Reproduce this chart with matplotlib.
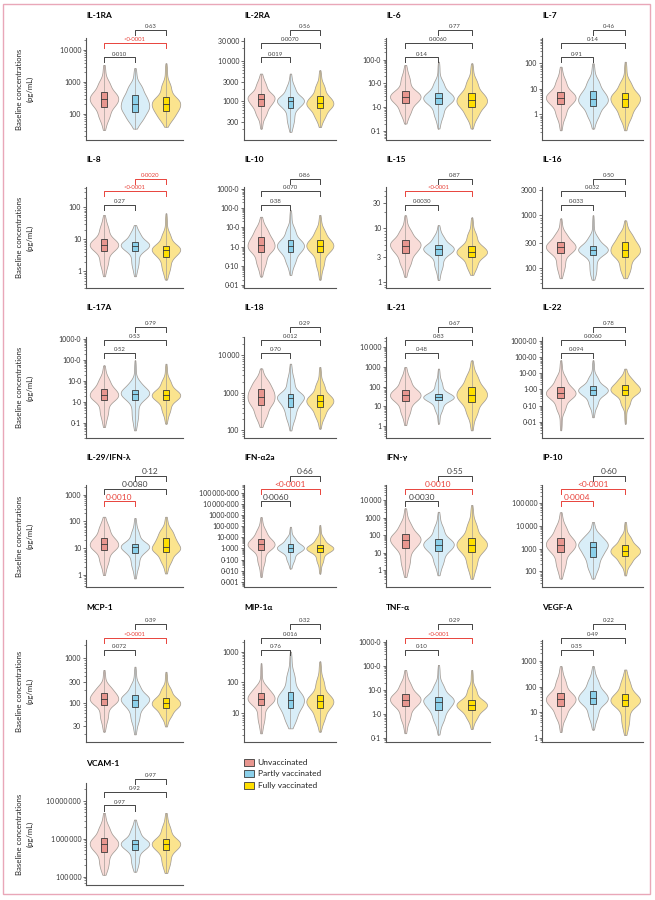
import numpy as np
import matplotlib
matplotlib.use("Agg")
import matplotlib.pyplot as plt
from matplotlib.patches import Rectangle
from matplotlib.ticker import LogLocator, NullFormatter

plt.rcParams['font.family'] = ['Lato', 'DejaVu Sans']

# ---------------------------------------------------------------- data
GROUPS = ["Unvaccinated", "Partly vaccinated", "Fully vaccinated"]
# quantiles read for each violin: min, 5%, Q1, median, Q3, 95%, max (pg/mL)
QLEVELS = [0.0, 0.05, 0.25, 0.5, 0.75, 0.95, 1.0]

IL1RA = [[32, 65, 170, 290, 470, 1150, 3400],
         [35, 58, 118, 205, 390, 910, 2700],
         [40, 65, 123, 205, 330, 1000, 3800]]
IL2RA = [[210, 400, 760, 1140, 1520, 3000, 4800],
         [175, 275, 690, 1000, 1260, 2500, 4800],
         [230, 365, 665, 910, 1320, 2750, 5800]]
IL6 = [[0.21, 0.48, 1.55, 2.8, 4.8, 22, 59],
       [0.13, 0.35, 1.4, 2.4, 4.1, 14, 81],
       [0.13, 0.35, 1.06, 2.0, 4.1, 16, 69]]
IL7 = [[0.24, 0.7, 2.5, 4.5, 7.7, 26, 74],
       [0.28, 0.7, 2.2, 4.0, 8.2, 26, 100],
       [0.24, 0.6, 1.9, 3.9, 7.0, 22, 115]]
IL8 = [[0.7, 1.4, 4.4, 6.7, 10, 28, 58],
       [0.7, 1.3, 4.2, 6.4, 8.5, 17, 28],
       [0.55, 1.0, 2.9, 4.7, 6.4, 17, 65]]
IL10 = [[0.029, 0.094, 0.55, 1.2, 3.0, 10.7, 35],
        [0.035, 0.115, 0.51, 1.1, 2.2, 10.7, 76],
        [0.02, 0.078, 0.51, 1.1, 2.2, 8.7, 43]]
IL15 = [[1.26, 1.95, 3.45, 4.8, 6.1, 10, 17.6],
        [1.1, 1.7, 3.2, 4.1, 4.9, 7.5, 11.5],
        [1.37, 1.8, 3.0, 3.7, 4.8, 8.7, 16]]
IL16 = [[63, 91, 187, 245, 310, 480, 870],
        [59, 78, 174, 218, 263, 415, 1000],
        [63, 84, 162, 218, 303, 480, 800]]
IL17A = [[0.065, 0.19, 1.2, 2.2, 4.4, 15.5, 56],
         [0.045, 0.13, 1.2, 2.5, 3.9, 10.8, 97],
         [0.094, 0.28, 1.2, 2.1, 3.6, 13, 67]]
IL18 = [[124, 210, 470, 780, 1300, 2400, 4500],
        [100, 185, 425, 750, 910, 2700, 6000],
        [112, 210, 425, 615, 870, 1950, 4900]]
IL21 = [[1.1, 3.5, 18, 36, 70, 300, 970],
        [1.3, 5.1, 20, 29, 44, 205, 810],
        [0.6, 2.9, 16.5, 39, 94, 450, 2100]]
IL22 = [[0.003, 0.04, 0.29, 0.59, 1.4, 7.3, 62],
        [0.019, 0.08, 0.43, 0.87, 1.6, 7.3, 62],
        [0.0076, 0.08, 0.47, 0.95, 1.95, 5.8, 19]]
IL29 = [[1.0, 2.4, 8.6, 14, 25, 74, 150],
        [0.75, 1.8, 6.5, 11.4, 15, 48, 135],
        [1.15, 2.7, 7.4, 11.4, 23.5, 55, 150]]
IFNA2A = [[0.0028, 0.032, 0.81, 2.3, 6.9, 63, 660],
          [0.016, 0.062, 0.49, 1.1, 2.3, 11, 89],
          [0.0056, 0.045, 0.49, 1.0, 2.0, 11, 126]]
IFNG = [[0.42, 1.55, 17.5, 52, 110, 575, 3400],
        [0.52, 1.9, 12.2, 29, 59, 370, 2150],
        [0.33, 1.25, 11, 29, 70, 575, 5200]]
IP10 = [[48, 130, 710, 1500, 2950, 11000, 40000],
        [48, 110, 430, 1120, 2000, 4650, 15000],
        [66, 185, 475, 800, 1410, 3900, 15000]]
MCP1 = [[23, 39, 92, 123, 167, 255, 550],
        [20, 36, 80, 118, 148, 277, 650],
        [30, 47, 77, 100, 133, 234, 500]]
MIP1A = [[2.2, 4.8, 18.6, 29, 44, 83, 420],
         [3.2, 5.3, 14.5, 27, 50, 225, 1000],
         [2.5, 5.3, 14.5, 24, 39, 137, 480]]
TNFA = [[0.16, 0.49, 2.05, 3.9, 6.8, 22, 67],
        [0.14, 0.42, 1.5, 3.3, 5.3, 19, 108],
        [0.24, 0.57, 1.5, 2.4, 3.9, 13.7, 67]]
VEGFA = [[1.7, 5.4, 17.4, 32, 57, 215, 630],
         [2.1, 5.4, 21, 36, 67, 215, 630],
         [1.3, 2.9, 17, 29, 51, 185, 465]]
VCAM1 = [[112000, 170000, 460000, 720000, 1050000, 2300000, 4800000],
         [135000, 200000, 510000, 720000, 940000, 1900000, 3200000],
         [125000, 195000, 490000, 720000, 980000, 2300000, 4800000]]

TITLES = ["IL-1RA", "IL-2RA", "IL-6", "IL-7",
          "IL-8", "IL-10", "IL-15", "IL-16",
          "IL-17A", "IL-18", "IL-21", "IL-22",
          "IL-29/IFN-λ", "IFN-α2a", "IFN-γ", "IP-10",
          "MCP-1", "MIP-1α", "TNF-α", "VEGF-A",
          "VCAM-1"]
DATA = [IL1RA, IL2RA, IL6, IL7, IL8, IL10, IL15, IL16, IL17A, IL18, IL21, IL22,
        IL29, IFNA2A, IFNG, IP10, MCP1, MIP1A, TNFA, VEGFA, VCAM1]

# p values for comparisons (1 vs 2, 1 vs 3, 2 vs 3) and whether shown in red
PVALUES = [["0·010", "<0·0001", "0·63"], ["0·019", "0·0070", "0·56"],
           ["0·14", "0·0060", "0·77"], ["0·91", "0·14", "0·46"],
           ["0·27", "<0·0001", "0·0020"], ["0·38", "0·070", "0·86"],
           ["0·0030", "<0·0001", "0·87"], ["0·033", "0·032", "0·50"],
           ["0·52", "0·53", "0·79"], ["0·70", "0·012", "0·29"],
           ["0·48", "0·83", "0·67"], ["0·094", "0·0060", "0·78"],
           ["0·0010", "0·0080", "0·12"], ["0·0060", "<0·0001", "0·66"],
           ["0·0030", "0·0010", "0·55"], ["0·0004", "<0·0001", "0·60"],
           ["0·072", "<0·0001", "0·39"], ["0·76", "0·016", "0·32"],
           ["0·10", "<0·0001", "0·29"], ["0·35", "0·49", "0·22"],
           ["0·97", "0·92", "0·97"]]
PRED = [[0, 1, 0], [0, 0, 0], [0, 0, 0], [0, 0, 0],
        [0, 1, 1], [0, 0, 0], [0, 1, 0], [0, 0, 0],
        [0, 0, 0], [0, 0, 0], [0, 0, 0], [0, 0, 0],
        [1, 0, 0], [0, 1, 0], [0, 1, 0], [1, 1, 0],
        [0, 1, 0], [0, 0, 0], [0, 1, 0], [0, 0, 0],
        [0, 0, 0]]

YTICKS = [[100, 1000, 10000], [300, 1000, 3000, 10000, 30000],
          [0.1, 1, 10, 100], [1, 10, 100],
          [1, 10, 100], [0.01, 0.1, 1, 10, 100, 1000],
          [1, 3, 10, 30], [100, 300, 1000, 3000],
          [0.1, 1, 10, 100, 1000], [100, 1000, 10000],
          [1, 10, 100, 1000, 10000], [0.01, 0.1, 1, 10, 100, 1000],
          [1, 10, 100, 1000], [0.001, 0.01, 0.1, 1, 10, 100, 1000, 10000, 100000],
          [1, 10, 100, 1000, 10000], [100, 1000, 10000, 100000],
          [30, 100, 300, 1000], [10, 100, 1000],
          [0.1, 1, 10, 100, 1000], [1, 10, 100, 1000],
          [100000, 1000000, 10000000]]
YLABELS = [["100", "1000", "10\u2009000"],
           ["300", "1000", "3000", "10\u2009000", "30\u2009000"],
           ["0·1", "1·0", "10·0", "100·0"], ["1", "10", "100"],
           ["1", "10", "100"],
           ["0·01", "0·10", "1·0", "10·0", "100·0", "1000·0"],
           ["1", "3", "10", "30"], ["100", "300", "1000", "3000"],
           ["0·1", "1·0", "10·0", "100·0", "1000·0"],
           ["100", "1000", "10\u2009000"],
           ["1", "10", "100", "1000", "10\u2009000"],
           ["0·01", "0·10", "1·00", "10·00", "100·00", "1000·00"],
           ["1", "10", "100", "1000"],
           ["0·001", "0·010", "0·100", "1·000", "10·000", "100·000", "1000·000",
            "10\u2009000·000", "100\u2009000·000"],
           ["1", "10", "100", "1000", "10\u2009000"],
           ["100", "1000", "10\u2009000", "100\u2009000"],
           ["30", "100", "300", "1000"], ["10", "100", "1000"],
           ["0·1", "1·0", "10·0", "100·0", "1000·0"],
           ["1", "10", "100", "1000"],
           ["100\u2009000", "1\u2009000\u2009000", "10\u2009000\u2009000"]]
YLIMS = [(15.5, 23400), (110, 36300), (0.043, 794), (0.1, 980),
         (0.30, 437), (0.0074, 1200), (0.78, 59), (41, 3470),
         (0.0195, 1260), (63, 30900), (0.245, 32400), (0.001, 1700),
         (0.36, 2290), (0.00035, 500000), (0.112, 72400), (20.4, 631000),
         (13.5, 2570), (1.15, 2400), (0.069, 1175), (0.69, 6600),
         (60300, 29500000)]

# ---------------------------------------------------------------- style
W, H = 655, 900
VFILL = ["#f9dcd8", "#d9eef8", "#fbe48e"]
BFILL = ["#e8968f", "#8bd0ea", "#ffdf00"]
VEDGE = "#a39c96"
RED = "#e8433b"
DARK = "#3a3a3a"

COL_X = [86, 244, 386, 542]
COL_W = [97, 92, 104, 101]
ROWS = [(38, 140), (187, 288), (337, 438), (485, 587), (640, 742), (783, 885)]
TITLE_Y = [15, 160, 308, 458, 608, 763]
LEVELS = [(0.81, 0.95, 1.08), (0.82, 0.96, 1.08), (0.84, 0.97, 1.10),
          (0.84, 0.96, 1.09), (0.90, 1.02, 1.16), (0.78, 0.91, 1.04)]
PFONT = [4.3, 4.3, 4.3, 6.0, 4.3, 4.3]

fig = plt.figure(figsize=(W / 100, H / 100), dpi=100)


def profile(vals):
    L = np.log10(vals)
    p = (np.arange(400) + 0.5) / 400
    s = np.interp(p, QLEVELS, L)
    bw = 0.33 * s.std()
    grid = np.linspace(L[0], L[-1], 300)
    d = np.exp(-0.5 * ((grid[:, None] - s[None, :]) / bw) ** 2).sum(1)
    d = d / d.max()
    return 10 ** grid, d


for idx, (title, data) in enumerate(zip(TITLES, DATA)):
    r, c = divmod(idx, 4)
    top, bot = ROWS[r]
    ax = fig.add_axes([COL_X[c] / W, 1 - bot / H, COL_W[c] / W, (bot - top) / H])
    ax.set_yscale('log')
    ax.set_xlim(0.42, 3.55)
    ax.set_ylim(*YLIMS[idx])
    for i, vals in enumerate(data):
        x = i + 1
        y, d = profile(vals)
        ax.fill_betweenx(y, x - 0.46 * d, x + 0.46 * d, facecolor=VFILL[i],
                         edgecolor=VEDGE, linewidth=0.55, zorder=1)
        ax.plot([x, x], [vals[0], vals[-1]], color=VEDGE, lw=0.5, zorder=2)
        ax.add_patch(Rectangle((x - 0.1, vals[2]), 0.2, vals[4] - vals[2],
                               facecolor=BFILL[i], edgecolor=DARK, lw=0.6, zorder=3))
        ax.plot([x - 0.1, x + 0.1], [vals[3], vals[3]], color=DARK, lw=0.6, zorder=4)
    ax.set_yticks(YTICKS[idx], YLABELS[idx])
    ax.yaxis.set_minor_locator(LogLocator(base=10, subs=np.arange(2, 10), numticks=50))
    ax.yaxis.set_minor_formatter(NullFormatter())
    ax.set_xticks([])
    for s in ['top', 'right']:
        ax.spines[s].set_visible(False)
    for s in ['left', 'bottom']:
        ax.spines[s].set_color('#555555')
        ax.spines[s].set_linewidth(0.8)
    ax.tick_params(axis='y', which='major', length=2.5, width=0.6, color='#555555',
                   labelsize=5, pad=1, labelcolor='#333333')
    ax.tick_params(axis='y', which='minor', length=1.4, width=0.5, color='#555555')
    trans = ax.get_xaxis_transform()
    for k, (a, b) in enumerate([(1, 2), (1, 3), (2, 3)]):
        yl = LEVELS[r][k]
        col = RED if PRED[idx][k] else '#444444'
        ax.plot([a, a, b, b], [yl - 0.05, yl, yl, yl - 0.05], transform=trans,
                color=col, lw=0.7, clip_on=False)
        ax.text((a + b) / 2, yl + 0.008, PVALUES[idx][k], transform=trans,
                ha='center', va='bottom', fontsize=PFONT[r], color=col)
    fig.text(COL_X[c] / W, 1 - TITLE_Y[r] / H, title, fontsize=6, fontweight='bold',
             ha='left', va='center')
    if c == 0:
        fig.text(25 / W, 1 - (top + bot) / 2 / H, "Baseline concentrations\n(pg/mL)",
                 rotation=90, ha='center', va='center', fontsize=5.6,
                 linespacing=1.6, color='#222222')

# legend
for i, g in enumerate(GROUPS):
    yc = 762.5 + i * 11.3
    fig.patches.append(Rectangle((243.5 / W, 1 - (yc + 3.5) / H), 10.5 / W, 7 / H,
                                 transform=fig.transFigure, facecolor=BFILL[i],
                                 edgecolor=DARK, lw=0.6))
    fig.text(257.5 / W, 1 - yc / H, g, fontsize=6, ha='left', va='center',
             color='#222222')

# pink frame
fig.patches.append(Rectangle((3.3 / W, 1 - 894 / H), (650 - 3.3) / W, (894 - 4) / H,
                             transform=fig.transFigure, fill=False,
                             edgecolor='#e9a7b8', lw=1.0))

fig.savefig("out.png", dpi=100)
